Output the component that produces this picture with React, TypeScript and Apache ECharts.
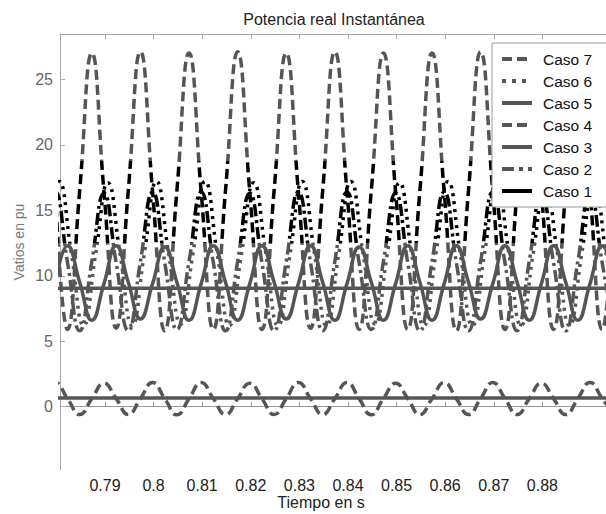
import React, { useEffect, useRef } from "react";
import * as echarts from "echarts";

// time grids (s)
const tiempoA = [0.7798,0.7823,0.7848,0.7873,0.7898,0.7923,0.7948,0.7973,0.7998,0.8023,0.8048,0.8073,0.8098,0.8123,0.8148,0.8173,0.8198,0.8223,0.8248,0.8273,0.8298,0.8323,0.8348,0.8373,0.8398,0.8423,0.8448,0.8473,0.8498,0.8523,0.8548,0.8573,0.8598,0.8623,0.8648,0.8673,0.8698,0.8723,0.8748,0.8773,0.8798,0.8823,0.8848,0.8873,0.8898,0.8923,0.8948];
const tiempoB = [0.7773,0.7798,0.7823,0.7848,0.7873,0.7898,0.7923,0.7948,0.7973,0.7998,0.8023,0.8048,0.8073,0.8098,0.8123,0.8148,0.8173,0.8198,0.8223,0.8248,0.8273,0.8298,0.8323,0.8348,0.8373,0.8398,0.8423,0.8448,0.8473,0.8498,0.8523,0.8548,0.8573,0.8598,0.8623,0.8648,0.8673,0.8698,0.8723,0.8748,0.8773,0.8798,0.8823,0.8848,0.8873,0.8898,0.8923,0.8948];
const tiempoC = [0.7781,0.7806,0.7831,0.7856,0.7881,0.7906,0.7931,0.7956,0.7981,0.8006,0.8031,0.8056,0.8081,0.8106,0.8131,0.8156,0.8181,0.8206,0.8231,0.8256,0.8281,0.8306,0.8331,0.8356,0.8381,0.8406,0.8431,0.8456,0.8481,0.8506,0.8531,0.8556,0.8581,0.8606,0.8631,0.8656,0.8681,0.8706,0.8731,0.8756,0.8781,0.8806,0.8831,0.8856,0.8881,0.8906,0.8931,0.8956];
const tiempoPlano = [0.775, 0.9];

// values (pu)
const caso7 = [16.4,5.9,16.5,27.0, 16.4,6.0,16.5,27.1, 16.4,5.8,16.5,27.0, 16.4,5.9,16.5,27.1, 16.4,5.9,16.5,27.0, 16.4,6.0,16.5,27.1, 16.4,5.9,16.5,27.0, 16.4,5.9,16.5,27.0, 16.4,5.8,16.5,27.1, 16.4,5.9,16.5,27.0, 16.4,5.9,16.5,27.0, 16.4,5.9,16.5];
const caso6 = [11.7,17.2,11.7,6.2, 11.7,17.1,11.7,6.2, 11.7,17.2,11.7,6.3, 11.7,17.2,11.7,6.2, 11.7,17.1,11.7,6.2, 11.7,17.2,11.7,6.2, 11.7,17.2,11.7,6.3, 11.7,17.1,11.7,6.2, 11.7,17.2,11.7,6.2, 11.7,17.2,11.7,6.2, 11.7,17.1,11.7,6.2, 11.7,17.2,11.7,6.2];
const caso5 = [9.4,12.3,9.5,6.6, 9.4,12.3,9.5,6.7, 9.4,12.2,9.5,6.6, 9.4,12.3,9.5,6.6, 9.4,12.3,9.5,6.7, 9.4,12.3,9.5,6.6, 9.4,12.2,9.5,6.6, 9.4,12.3,9.5,6.6, 9.4,12.3,9.5,6.7, 9.4,12.3,9.5,6.6, 9.4,12.3,9.5,6.6, 9.4,12.3,9.5];
const caso4 = [0.62,1.85,0.62,-0.6, 0.62,1.8,0.62,-0.6, 0.62,1.85,0.62,-0.62, 0.62,1.85,0.62,-0.6, 0.62,1.8,0.62,-0.6, 0.62,1.85,0.62,-0.6, 0.62,1.85,0.62,-0.62, 0.62,1.8,0.62,-0.6, 0.62,1.85,0.62,-0.6, 0.62,1.85,0.62,-0.6, 0.62,1.8,0.62,-0.6, 0.62,1.85,0.62,-0.6];
const caso3 = [9.05, 9.05];
const caso2 = [11.1,16.4,11.0,5.8, 11.1,16.3,11.0,5.8, 11.1,16.4,11.0,5.9, 11.1,16.4,11.0,5.8, 11.1,16.3,11.0,5.8, 11.1,16.4,11.0,5.8, 11.1,16.4,11.0,5.9, 11.1,16.3,11.0,5.8, 11.1,16.4,11.0,5.8, 11.1,16.4,11.0,5.8, 11.1,16.3,11.0,5.8, 11.1,16.4,11.0,5.8];
const caso1 = [0.66, 0.66];

const ticksX = [0.79, 0.8, 0.81, 0.82, 0.83, 0.84, 0.85, 0.86, 0.87, 0.88];
const ticksY = [0, 5, 10, 15, 20, 25];

const FONT = "Liberation Sans, Arial, sans-serif";
const GRAY = "#555555";

const zip = (t: number[], v: number[]) => t.map((x, i) => [x, v[i]]);

export default function App() {
  const ref = useRef<HTMLDivElement>(null);
  useEffect(() => {
    const chart = echarts.init(ref.current!, null, { renderer: "svg" });
    const mk = (name: string, t: number[], v: number[], type: any, color: string) => ({
      name,
      type: "line",
      data: zip(t, v),
      smooth: 0.5,
      symbol: "none",
      showSymbol: false,
      color,
      lineStyle: { width: 3.5, type },
      clip: true,
    });
    const series = [
      mk("Caso 7", tiempoA, caso7, [10, 5], GRAY),
      mk("Caso 6", tiempoC, caso6, [3, 5], GRAY),
      mk("Caso 2", tiempoB, caso2, [12, 4, 3, 4], GRAY),
      mk("Caso 5", tiempoA, caso5, "solid", GRAY),
      mk("Caso 4", tiempoB, caso4, [10, 5], GRAY),
      mk("Caso 3", tiempoPlano, caso3, "solid", GRAY),
      mk("Caso 1", tiempoPlano, caso1, "solid", "#000"),
    ];
    const legendItem = (name: string, type: any, color: string) => ({
      name,
      lineStyle: { color, type, width: 4 },
      itemStyle: { opacity: 0 },
    });
    const option: any = {
      animation: false,
      backgroundColor: "#fff",
      grid: { left: 60, right: 0, top: 34, bottom: 44 },
      xAxis: [
        {
          type: "value",
          position: "bottom",
          min: 0.78075,
          max: 0.89309,
          axisLine: { show: true, lineStyle: { color: "#999", width: 1 } },
          axisTick: { show: true, inside: true, length: 5, customValues: ticksX, lineStyle: { color: "#999" } },
          axisLabel: { customValues: ticksX, formatter: (v: number) => String(v), color: "#222", fontSize: 16, fontFamily: FONT, margin: 7 },
          splitLine: { show: false },
        },
        {
          type: "value",
          position: "top",
          min: 0.78075,
          max: 0.89309,
          axisLine: { show: true, lineStyle: { color: "#aaa", width: 1 } },
          axisTick: { show: true, inside: true, length: 5, customValues: ticksX, lineStyle: { color: "#aaa" } },
          axisLabel: { show: false },
          splitLine: { show: false },
        },
      ],
      yAxis: {
        type: "value",
        min: -4.83,
        max: 28.46,
        axisLine: { show: true, lineStyle: { color: "#aaa", width: 1 } },
        axisTick: { show: true, inside: true, length: 5, customValues: ticksY, lineStyle: { color: "#aaa" } },
        axisLabel: { customValues: ticksY, color: "#666", fontSize: 16, fontFamily: FONT, margin: 7 },
        splitLine: { show: false },
      },
      visualMap: {
        type: "piecewise",
        show: false,
        dimension: 1,
        seriesIndex: [0, 1, 2, 3, 4, 5, 6],
        pieces: [{ gte: 12.5, lte: 18.8, color: "#000" }],
        outOfRange: { color: GRAY },
      },
      legend: {
        orient: "vertical",
        left: 492,
        top: 43,
        padding: [8, 40, 8, 8],
        itemWidth: 30,
        itemHeight: 14,
        itemGap: 6,
        backgroundColor: "#fff",
        borderColor: "#999",
        borderWidth: 1,
        borderRadius: 0,
        textStyle: { fontSize: 15.5, fontFamily: FONT, color: "#111", padding: [0, 0, 0, 6] },
        data: [
          legendItem("Caso 7", [10, 5], GRAY),
          legendItem("Caso 6", [4, 6], GRAY),
          legendItem("Caso 5", "solid", GRAY),
          legendItem("Caso 4", [10, 5], GRAY),
          legendItem("Caso 3", "solid", GRAY),
          legendItem("Caso 2", [12, 5, 4, 5], GRAY),
          legendItem("Caso 1", "solid", "#000"),
        ],
      },
      graphic: [
        { type: "text", x: 334, y: 19, style: { text: "Potencia real Instantánea", fontSize: 16, fontFamily: FONT, fill: "#222", align: "center", verticalAlign: "middle" } },
        { type: "text", x: 321, y: 502, style: { text: "Tiempo en s", fontSize: 16, fontFamily: FONT, fill: "#222", align: "center", verticalAlign: "middle" } },
        { type: "text", x: 19, y: 242, rotation: Math.PI / 2, style: { text: "Vatios en pu", fontSize: 14, fontFamily: FONT, fill: "#777", align: "center", verticalAlign: "middle" } },
      ],
      series,
    };
    chart.setOption(option);
    return () => chart.dispose();
  }, []);
  return <div ref={ref} style={{ position: "fixed", left: 0, top: 0, width: 606, height: 514, background: "#fff" }} />;
}
